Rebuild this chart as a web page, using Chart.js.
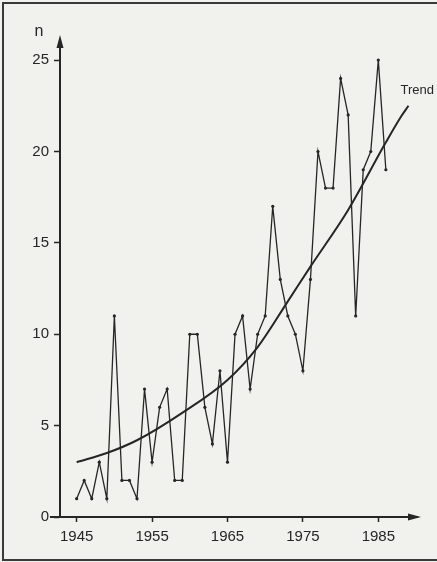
<!DOCTYPE html>
<html lang="de">
<head>
<meta charset="UTF-8">
<title>Trend n 1945-1986</title>
<script src="https://cdn.jsdelivr.net/npm/chart.js"></script>
<style>
  html, body { margin: 0; padding: 0; background: #f1f1ee; }
  canvas { display: block; }
</style>
</head>
<body>
<canvas id="chart" width="437" height="562"></canvas>
<script>
// Werte
const years = [1945, 1946, 1947, 1948, 1949, 1950, 1951, 1952, 1953, 1954,
               1955, 1956, 1957, 1958, 1959, 1960, 1961, 1962, 1963, 1964,
               1965, 1966, 1967, 1968, 1969, 1970, 1971, 1972, 1973, 1974,
               1975, 1976, 1977, 1978, 1979, 1980, 1981, 1982, 1983, 1984,
               1985, 1986];
const counts = [1, 2, 1, 3, 1, 11, 2, 2, 1, 7,
                3, 6, 7, 2, 2, 10, 10, 6, 4, 8,
                3, 10, 11, 7, 10, 11, 17, 13, 11, 10,
                8, 13, 20, 18, 18, 24, 22, 11, 19, 20,
                25, 19];
const trendYears  = [1945, 1949, 1953, 1959, 1965, 1969, 1973, 1976, 1981, 1986, 1988, 1989];
const trendValues = [3.0, 3.5, 4.2, 5.7, 7.5, 9.3, 11.8, 13.7, 16.8, 20.5, 21.9, 22.5];
const xTicks = [1945, 1955, 1965, 1975, 1985];
const yTicks = [0, 5, 10, 15, 20, 25];

const ink = '#262626';
const font = { family: '"Liberation Sans", Arial, sans-serif', size: 15 };

// Hintergrund, Rahmen, Pfeile und Beschriftungen
const paper = {
    id: 'paper',
    beforeDraw(chart) {
        const c = chart.ctx;
        c.save();
        c.fillStyle = '#f1f1ee';
        c.fillRect(0, 0, chart.width, chart.height);
        c.strokeStyle = '#3a3a3a';
        c.lineWidth = 2;
        c.beginPath();
        c.moveTo(chart.width, 3);
        c.lineTo(3, 3);
        c.lineTo(3, 560);
        c.lineTo(chart.width, 560);
        c.stroke();
        c.restore();
    },
    afterDraw(chart) {
        const c = chart.ctx;
        const a = chart.chartArea;
        c.save();
        c.fillStyle = ink;
        c.strokeStyle = ink;
        c.lineWidth = 2;
        // x-Achse etwas nach links verlaengern
        c.beginPath();
        c.moveTo(a.left - 10, a.bottom);
        c.lineTo(a.left, a.bottom);
        c.stroke();
        // Pfeil oben
        c.beginPath();
        c.moveTo(a.left, a.top - 5);
        c.lineTo(a.left - 3.5, a.top + 8);
        c.lineTo(a.left + 3.5, a.top + 8);
        c.closePath();
        c.fill();
        // Pfeil rechts
        c.beginPath();
        c.moveTo(a.right + 4, a.bottom);
        c.lineTo(a.right - 9, a.bottom - 3.5);
        c.lineTo(a.right - 9, a.bottom + 3.5);
        c.closePath();
        c.fill();
        // "n"
        c.font = '16px "Liberation Sans", Arial, sans-serif';
        c.textAlign = 'center';
        c.textBaseline = 'middle';
        c.fillText('n', a.left - 21, a.top - 8);
        // "Trend" am Ende der Kurve
        const meta = chart.getDatasetMeta(1);
        const last = meta.data[meta.data.length - 1];
        c.font = '13px "Liberation Sans", Arial, sans-serif';
        c.textAlign = 'left';
        c.fillText('Trend', last.x - 8, last.y - 15);
        c.restore();
    }
};

new Chart(document.getElementById('chart'), {
    type: 'line',
    data: {
        datasets: [
            {
                label: 'n',
                data: years.map((y, i) => ({ x: y, y: counts[i] })),
                borderColor: ink,
                borderWidth: 1.3,
                pointRadius: 1.6,
                pointBackgroundColor: ink,
                pointBorderWidth: 0,
                tension: 0
            },
            {
                label: 'Trend',
                data: trendYears.map((y, i) => ({ x: y, y: trendValues[i] })),
                borderColor: ink,
                borderWidth: 2,
                pointRadius: 0,
                cubicInterpolationMode: 'monotone'
            }
        ]
    },
    options: {
        responsive: false,
        devicePixelRatio: 1,
        animation: false,
        layout: { padding: { left: 0, top: 40, right: 20, bottom: 0 } },
        plugins: { legend: { display: false }, tooltip: { enabled: false } },
        scales: {
            x: {
                type: 'linear',
                min: 1942.79,
                max: 1990.13,
                afterBuildTicks: s => { s.ticks = xTicks.map(v => ({ value: v })); },
                afterFit: s => { s.height = 45; },
                ticks: { color: ink, font: font, padding: 6, maxRotation: 0, callback: v => String(v) },
                grid: { drawOnChartArea: false, tickLength: 5, tickColor: ink, tickWidth: 1.5 },
                border: { color: ink, width: 2 }
            },
            y: {
                min: 0,
                max: 26.1,
                afterBuildTicks: s => { s.ticks = yTicks.map(v => ({ value: v })); },
                afterFit: s => { s.width = 60; },
                ticks: { color: ink, font: font, padding: 5 },
                grid: { drawOnChartArea: false, tickLength: 6, tickColor: ink, tickWidth: 1.5 },
                border: { color: ink, width: 2 }
            }
        }
    },
    plugins: [paper]
});
</script>
</body>
</html>
